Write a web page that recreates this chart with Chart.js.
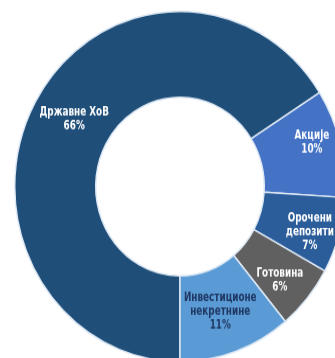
<!DOCTYPE html>
<html>
<head>
<meta charset="utf-8">
<script src="https://cdn.jsdelivr.net/npm/chart.js@4.4.1/dist/chart.umd.min.js"></script>
<style>
  html, body { margin: 0; padding: 0; background: #ffffff; }
  #frame { position: relative; width: 335px; height: 358px; overflow: hidden; background: #ffffff; }
  #stretch { position: absolute; left: 0; top: 0; width: 360px; height: 360px; transform: scaleY(1.06); transform-origin: 0 0; }
  #holder { position: absolute; left: 0; top: -4.5px; width: 360px; height: 360px; }
</style>
</head>
<body>
<div id="frame">
  <div id="stretch">
    <div id="holder"><canvas id="chart"></canvas></div>
  </div>
</div>
<script>
// Portfolio structure (share of total, %)
const categories = [
  ['Државне ХоВ'],
  ['Акције'],
  ['Орочени', 'депозити'],
  ['Готовина'],
  ['Инвестиционе', 'некретнине']
];
const shares = [66, 10, 7, 6, 11];

const sliceColors = ['#1f4e79', '#4472c4', '#2b5d9b', '#606060', '#5b9bd5'];
const labelColors = ['#ffffff', '#ffffff', '#ffffff', '#ffffff', '#1f3864'];
// small nudges of each label away from the middle of its ring segment
const labelNudge = [[3.5, -4], [11, -10.5], [10, 8.5], [3.7, 8.5], [-2, 0]];

const sliceLabels = {
  id: 'sliceLabels',
  afterDatasetsDraw(chart) {
    const ctx = chart.ctx;
    const meta = chart.getDatasetMeta(0);
    ctx.save();
    ctx.font = 'bold 12px "DejaVu Sans Condensed", "DejaVu Sans", sans-serif';
    ctx.textAlign = 'center';
    ctx.textBaseline = 'middle';
    meta.data.forEach((arc, i) => {
      const p = arc.getProps(['x', 'y', 'startAngle', 'endAngle', 'innerRadius', 'outerRadius'], true);
      const mid = (p.startAngle + p.endAngle) / 2;
      const r = (p.innerRadius + p.outerRadius) / 2;
      const cx = p.x + Math.cos(mid) * r + labelNudge[i][0];
      const cy = p.y + Math.sin(mid) * r + labelNudge[i][1];
      const lines = categories[i].concat([shares[i] + '%']);
      const lh = 13;
      const top = cy - (lines.length - 1) * lh / 2;
      ctx.fillStyle = labelColors[i];
      lines.forEach((t, k) => {
        // narrow, condensed lettering
        ctx.save();
        ctx.translate(cx, top + k * lh);
        ctx.scale(0.82, 1);
        ctx.fillText(t, 0, 0);
        ctx.restore();
      });
    });
    ctx.restore();
  }
};

new Chart(document.getElementById('chart'), {
  type: 'doughnut',
  data: {
    labels: categories.map(c => c.join(' ')),
    datasets: [{
      data: shares,
      backgroundColor: sliceColors,
      borderColor: '#dce8f4',
      borderWidth: 1.5
    }]
  },
  options: {
    responsive: true,
    maintainAspectRatio: false,
    animation: false,
    rotation: 180,
    cutout: '51%',
    layout: { padding: 14 },
    plugins: {
      legend: { display: false },
      tooltip: { enabled: false },
      title: { display: false }
    }
  },
  plugins: [sliceLabels]
});
</script>
</body>
</html>
